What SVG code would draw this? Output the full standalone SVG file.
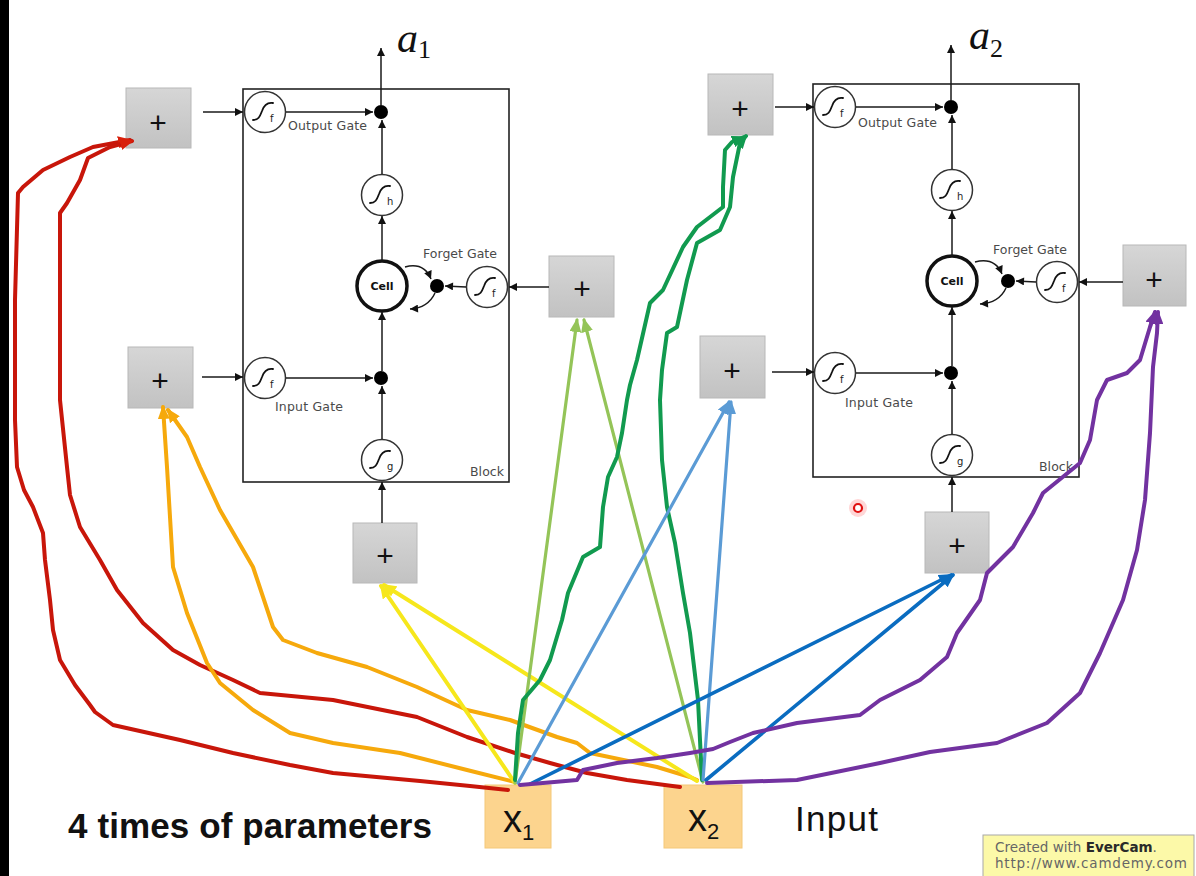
<svg xmlns="http://www.w3.org/2000/svg" width="1196" height="876" viewBox="0 0 1196 876">
<defs>
<style>
.blk{fill:none;stroke:#222;stroke-width:1.6}
.ln{fill:none;stroke:#1a1a1a;stroke-width:1.5;marker-end:url(#ah)}
.gate{fill:#fff;stroke:#333;stroke-width:1.5}
.sg{fill:none;stroke:#111;stroke-width:1.8;stroke-linecap:round}
.sub{font-family:"DejaVu Sans",sans-serif;font-size:10px;fill:#222}
.lbl{font-family:"DejaVu Sans",sans-serif;font-size:12.5px;fill:#4a4a4a}
.cell{fill:#fff;stroke:#111;stroke-width:3.5}
.celltxt{font-family:"DejaVu Sans",sans-serif;font-size:11px;font-weight:bold;fill:#111;text-anchor:middle}
.dot{fill:#000}
.pbox{fill:url(#pg);stroke:#b8b8b8;stroke-width:1}
.plus{font-family:"Liberation Sans",sans-serif;font-size:30px;fill:#111;text-anchor:middle}
.xbox{fill:#fcd48e;stroke:#f4c878;stroke-width:1}
.xt{font-family:"Liberation Sans",sans-serif;font-size:38px;fill:#111}
.alab{font-family:"Liberation Serif",serif;font-size:42px;font-style:italic;fill:#111}
.hd{fill:none;stroke-linecap:round;stroke-linejoin:round;stroke-width:4}
.red{stroke:#c8160a;marker-end:url(#mr)}
.org{stroke:#f6a90c;marker-end:url(#mo)}
.yel{stroke:#f6e71c;marker-end:url(#my)}
.lgr{stroke:#94c458;stroke-width:3.2;marker-end:url(#mlg)}
.dgr{stroke:#119a4f;marker-end:url(#mdg)}
.lbl2{stroke:#5b9bd5;stroke-width:3.2;marker-end:url(#mlb)}
.dbl{stroke:#0a6cc0;stroke-width:3.6;marker-end:url(#mdb)}
.pur{stroke:#7232a0;marker-end:url(#mp)}
</style>
<linearGradient id="pg" x1="0" y1="0" x2="0" y2="1"><stop offset="0" stop-color="#d6d6d6"/><stop offset="1" stop-color="#c2c2c2"/></linearGradient>
<marker id="ah" viewBox="0 0 10 10" refX="10" refY="5" markerWidth="10" markerHeight="8" markerUnits="userSpaceOnUse" orient="auto"><path d="M0,0L10,5L0,10z" fill="#111"/></marker>
<marker id="mr" viewBox="0 0 14 12" refX="12" refY="6" markerWidth="14" markerHeight="12" markerUnits="userSpaceOnUse" orient="auto"><path d="M0,0L14,6L0,12z" fill="#d8200c"/></marker>
<marker id="mo" viewBox="0 0 14 12" refX="12" refY="6" markerWidth="14" markerHeight="12" markerUnits="userSpaceOnUse" orient="auto"><path d="M0,0L14,6L0,12z" fill="#f6a90c"/></marker>
<marker id="my" viewBox="0 0 14 12" refX="12" refY="6" markerWidth="14" markerHeight="12" markerUnits="userSpaceOnUse" orient="auto"><path d="M0,0L14,6L0,12z" fill="#f6e71c"/></marker>
<marker id="mlg" viewBox="0 0 14 12" refX="12" refY="6" markerWidth="14" markerHeight="12" markerUnits="userSpaceOnUse" orient="auto"><path d="M0,0L14,6L0,12z" fill="#94c458"/></marker>
<marker id="mdg" viewBox="0 0 14 12" refX="12" refY="6" markerWidth="14" markerHeight="12" markerUnits="userSpaceOnUse" orient="auto"><path d="M0,0L14,6L0,12z" fill="#119a4f"/></marker>
<marker id="mlb" viewBox="0 0 14 12" refX="12" refY="6" markerWidth="14" markerHeight="12" markerUnits="userSpaceOnUse" orient="auto"><path d="M0,0L14,6L0,12z" fill="#5b9bd5"/></marker>
<marker id="mdb" viewBox="0 0 14 12" refX="12" refY="6" markerWidth="14" markerHeight="12" markerUnits="userSpaceOnUse" orient="auto"><path d="M0,0L14,6L0,12z" fill="#0a6cc0"/></marker>
<marker id="mp" viewBox="0 0 14 12" refX="12" refY="6" markerWidth="14" markerHeight="12" markerUnits="userSpaceOnUse" orient="auto"><path d="M0,0L14,6L0,12z" fill="#7232a0"/></marker>
<g id="sig"><circle r="20.5" class="gate"/><path class="sg" d="M-12,8 C-6,8 -5,4 -3,-1 C-1,-7 2,-10 8,-9"/></g>
</defs>

<rect x="0" y="0" width="1196" height="876" fill="#fff"/>
<rect x="0" y="0" width="9" height="876" fill="#000"/>

<!-- Block 1 -->
<g id="block1">
<rect x="243" y="89" width="266" height="393" class="blk"/>
<text x="470" y="476" class="lbl" textLength="34">Block</text>
</g>
<g id="b1-output-gate"><use href="#sig" x="265" y="112"/><text x="270" y="122" class="sub">f</text><text x="288" y="130" class="lbl" textLength="79">Output Gate</text></g>
<g id="b1-output-dot"><circle cx="381" cy="112" r="7" class="dot"/></g>
<g id="b1-h"><use href="#sig" x="382" y="195"/><text x="387" y="205" class="sub">h</text></g>
<g id="b1-cell"><circle cx="382" cy="286" r="25" class="cell"/><text x="382" y="290" class="celltxt">Cell</text></g>
<g id="b1-forget-dot"><circle cx="437" cy="286" r="7" class="dot"/></g>
<g id="b1-forget-gate"><use href="#sig" x="487" y="287"/><text x="492" y="297" class="sub">f</text><text x="423" y="258" class="lbl" textLength="74">Forget Gate</text></g>
<g id="b1-input-gate"><use href="#sig" x="265" y="378"/><text x="270" y="388" class="sub">f</text><text x="275" y="411" class="lbl" textLength="68">Input Gate</text></g>
<g id="b1-input-dot"><circle cx="381" cy="378" r="7" class="dot"/></g>
<g id="b1-g"><use href="#sig" x="382" y="460"/><text x="387" y="470" class="sub">g</text></g>
<g id="a1"><text x="397" y="52" class="alab">a<tspan font-style="normal" font-size="26" dy="6">1</tspan></text></g>

<!-- Block 2 -->
<g id="block2">
<rect x="813" y="84" width="266" height="393" class="blk"/>
<text x="1039" y="471" class="lbl" textLength="34">Block</text>
</g>
<g id="b2-output-gate"><use href="#sig" x="835" y="107"/><text x="840" y="117" class="sub">f</text><text x="858" y="127" class="lbl" textLength="79">Output Gate</text></g>
<g id="b2-output-dot"><circle cx="951" cy="107" r="7" class="dot"/></g>
<g id="b2-h"><use href="#sig" x="952" y="190"/><text x="957" y="200" class="sub">h</text></g>
<g id="b2-cell"><circle cx="952" cy="281" r="25" class="cell"/><text x="952" y="285" class="celltxt">Cell</text></g>
<g id="b2-forget-dot"><circle cx="1008" cy="281" r="7" class="dot"/></g>
<g id="b2-forget-gate"><use href="#sig" x="1057" y="282"/><text x="1062" y="292" class="sub">f</text><text x="993" y="254" class="lbl" textLength="74">Forget Gate</text></g>
<g id="b2-input-gate"><use href="#sig" x="835" y="373"/><text x="840" y="383" class="sub">f</text><text x="845" y="407" class="lbl" textLength="68">Input Gate</text></g>
<g id="b2-input-dot"><circle cx="951" cy="373" r="7" class="dot"/></g>
<g id="b2-g"><use href="#sig" x="952" y="455"/><text x="957" y="465" class="sub">g</text></g>
<g id="a2"><text x="969" y="49" class="alab">a<tspan font-style="normal" font-size="26" dy="8">2</tspan></text></g>

<!-- plus boxes -->
<g id="p1-out"><rect x="126" y="88" width="65" height="60" class="pbox"/><text x="158" y="133" class="plus">+</text></g>
<g id="p1-in"><rect x="128" y="347" width="65" height="61" class="pbox"/><text x="160" y="391" class="plus">+</text></g>
<g id="p1-forget"><rect x="549" y="256" width="65" height="61" class="pbox"/><text x="582" y="299" class="plus">+</text></g>
<g id="p1-g"><rect x="353" y="523" width="64" height="60" class="pbox"/><text x="385" y="566" class="plus">+</text></g>
<g id="p2-out"><rect x="708" y="74" width="65" height="61" class="pbox"/><text x="740" y="119" class="plus">+</text></g>
<g id="p2-in"><rect x="700" y="336" width="65" height="62" class="pbox"/><text x="732" y="381" class="plus">+</text></g>
<g id="p2-forget"><rect x="1123" y="245" width="63" height="61" class="pbox"/><text x="1154" y="290" class="plus">+</text></g>
<g id="p2-g"><rect x="925" y="512" width="64" height="61" class="pbox"/><text x="957" y="556" class="plus">+</text></g>

<!-- inputs -->
<g id="x1"><rect x="485" y="785" width="66" height="63" class="xbox"/><text x="503" y="832" class="xt">x<tspan font-size="22" dy="8">1</tspan></text></g>
<g id="x2"><rect x="664" y="785" width="78" height="63" class="xbox"/><text x="688" y="831" class="xt">x<tspan font-size="22" dy="8">2</tspan></text></g>

<!-- connectors -->
<g id="connectors">
<g id="black-arrows">
<line x1="203" y1="112" x2="243" y2="112" class="ln"/>
<line x1="286" y1="112" x2="373" y2="112" class="ln"/>
<line x1="382" y1="174" x2="382" y2="120" class="ln"/>
<line x1="382" y1="260" x2="382" y2="216" class="ln"/>
<line x1="381" y1="105" x2="381" y2="48" class="ln"/>
<line x1="202" y1="377" x2="243" y2="377" class="ln"/>
<line x1="286" y1="378" x2="373" y2="378" class="ln"/>
<line x1="382" y1="439" x2="382" y2="386" class="ln"/>
<line x1="382" y1="371" x2="382" y2="312" class="ln"/>
<line x1="549" y1="287" x2="509" y2="287" class="ln"/>
<line x1="466" y1="287" x2="445" y2="286" class="ln"/>
<line x1="382" y1="523" x2="382" y2="482" class="ln"/>
<path d="M405,267 Q424,262 431,279" class="ln"/>
<path d="M435,293 Q428,308 410,309" class="ln"/>

<line x1="775" y1="107" x2="814" y2="107" class="ln"/>
<line x1="856" y1="107" x2="943" y2="107" class="ln"/>
<line x1="952" y1="169" x2="952" y2="115" class="ln"/>
<line x1="952" y1="256" x2="952" y2="211" class="ln"/>
<line x1="951" y1="100" x2="951" y2="45" class="ln"/>
<line x1="772" y1="372" x2="814" y2="372" class="ln"/>
<line x1="856" y1="373" x2="943" y2="373" class="ln"/>
<line x1="952" y1="434" x2="952" y2="381" class="ln"/>
<line x1="952" y1="366" x2="952" y2="307" class="ln"/>
<line x1="1123" y1="282" x2="1079" y2="282" class="ln"/>
<line x1="1036" y1="282" x2="1016" y2="281" class="ln"/>
<line x1="952" y1="512" x2="952" y2="477" class="ln"/>
<path d="M975,262 Q995,257 1002,274" class="ln"/>
<path d="M1006,288 Q999,303 980,304" class="ln"/>
</g>

<g id="hand-drawn">
<polyline class="hd red" points="508,790 470,786 420,781 333,773 290,765 233,753 180,740 113,725 95,712 90,705 75,685 60,660 53,630 50,600 45,560 43,533 33,507 24,490 17,467 15,420 15,300 18,193 23,187 43,170 70,157 93,147 130,140"/>
<polyline class="hd red" points="680,787 627,780 587,773 550,763 515,753 467,737 417,717 333,700 260,693 233,680 200,665 173,650 143,623 117,590 100,560 80,527 70,495 67,467 60,400 60,213 67,203 80,180 88,158 110,147 132,141"/>
<polyline class="hd org" points="515,782 467,770 400,753 333,743 290,733 253,710 220,683 207,663 187,613 173,567 167,467 163,407"/>
<polyline class="hd org" points="697,780 690,777 657,767 590,753 577,743 557,737 510,720 467,710 417,687 367,667 317,653 283,640 273,627 253,567 220,510 200,467 187,437 168,410"/>
<line class="hd yel" x1="515" y1="783" x2="381" y2="586"/>
<line class="hd yel" x1="697" y1="781" x2="384" y2="585"/>
<line class="hd lgr" x1="515" y1="783" x2="577" y2="320"/>
<line class="hd lgr" x1="703" y1="782" x2="584" y2="320"/>
<polyline class="hd dgr" points="515,780 518,733 523,700 540,680 550,660 562,620 568,593 583,557 600,547 603,507 608,477 617,457 622,433 627,400 630,385 637,360 650,303 663,290 683,247 697,227 723,207 723,187 725,150 732,142 744,137"/>
<polyline class="hd dgr" points="702,780 698,700 690,633 683,593 675,543 667,507 662,460 660,400 662,370 667,333 677,327 687,280 697,243 720,230 730,207 733,177 740,143 746,136"/>
<line class="hd lbl2" x1="518" y1="783" x2="729" y2="402"/>
<line class="hd lbl2" x1="703" y1="780" x2="731" y2="402"/>
<line class="hd dbl" x1="530" y1="784" x2="951" y2="575"/>
<line class="hd dbl" x1="706" y1="780" x2="953" y2="575"/>
<polyline class="hd pur" points="707,783 797,780 880,763 930,752 997,743 1047,723 1080,693 1100,653 1123,600 1137,550 1145,500 1150,433 1153,367 1157,333 1158,312"/>
<polyline class="hd pur" points="520,785 577,780 583,770 617,763 657,758 690,753 713,749 730,742 753,733 797,723 860,715 880,700 920,680 947,657 957,633 980,600 987,573 1013,547 1033,513 1043,493 1080,463 1090,440 1097,400 1107,380 1127,373 1140,360 1150,327 1155,312"/>
</g>
</g>

<!-- captions -->
<text x="68" y="838" font-family="Liberation Sans, sans-serif" font-size="35" font-weight="bold" fill="#111" textLength="364">4 times of parameters</text>
<text x="795" y="831" font-family="Liberation Sans, sans-serif" font-size="35" fill="#111" textLength="83">Input</text>

<!-- cursor -->
<circle cx="858" cy="508" r="9" fill="#ff5a5a" opacity="0.25"/>
<circle cx="858" cy="508" r="4" fill="#fff" stroke="#e01010" stroke-width="2.2"/>

<!-- watermark -->
<rect x="983" y="835" width="211" height="50" fill="#fcf9a8" stroke="#a8a8a8" stroke-width="1"/>
<text x="995" y="852" font-family="DejaVu Sans, sans-serif" font-size="13.5" fill="#666">Created with <tspan font-weight="bold" fill="#2a2a2a">EverCam</tspan>.</text>
<text x="995" y="868" font-family="DejaVu Sans, sans-serif" font-size="13.5" fill="#666" textLength="192">http://www.camdemy.com</text>
</svg>
